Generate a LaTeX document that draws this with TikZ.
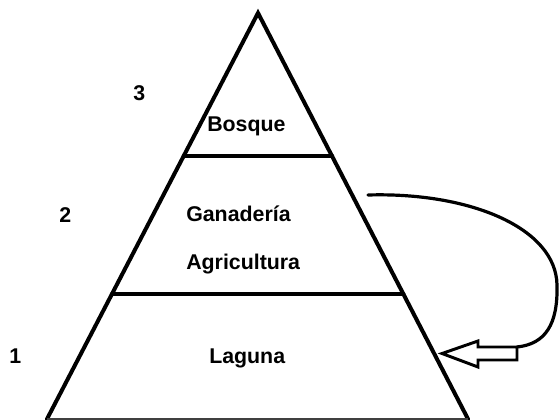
\documentclass[tikz,border=0pt]{standalone}
\usepackage{fontspec}
\setmainfont{Liberation Sans}
\begin{document}
\begin{tikzpicture}[x=0.75pt,y=-0.75pt,
  edge/.style={line width=3pt,line join=miter,line cap=round},
  lbl/.style={font=\bfseries\fontsize{16}{18}\selectfont,inner sep=0pt,anchor=base west}]
\useasboundingbox (0,0) rectangle (559,420);
% pyramid
\coordinate (apex) at (258,13);
\coordinate (bl) at (47,419);
\coordinate (br) at (468,419);
\draw[edge] (bl) -- (apex) -- (br);
\draw[line width=0.8pt,black!75] (bl) -- (br);
\coordinate (t1) at (183.7,156);
\coordinate (t2) at (332.3,156);
\coordinate (m1) at (112.0,294);
\coordinate (m2) at (403.5,294);
\draw[edge] (t1) -- (t2);
\draw[edge] (m1) -- (m2);
% labels
\node[lbl] (bosque) at (207,132) {Bosque};
\node[lbl] (gan) at (186,221) {Ganadería};
\node[lbl] (agr) at (186,269) {Agricultura};
\node[lbl] (lag) at (209,363) {Laguna};
\node[lbl] (n3) at (133,101) {3};
\node[lbl] (n2) at (59,222) {2};
\node[lbl] (n1) at (9,363) {1};
% curved arrow
\coordinate (cs) at (368,195);
\coordinate (ce) at (517,347);
\draw[line width=2.4pt,line cap=round] (cs) .. controls (470,192) and (556,228) .. (557,285)
  .. controls (558,325) and (545,344) .. (ce);
\draw[line width=2.2pt,line join=miter,fill=white]
  (517,347) -- (517,360) -- (478,360) -- (478,367) -- (442,353.5) -- (478,341) -- (478,347) -- cycle;
\end{tikzpicture}
\end{document}
